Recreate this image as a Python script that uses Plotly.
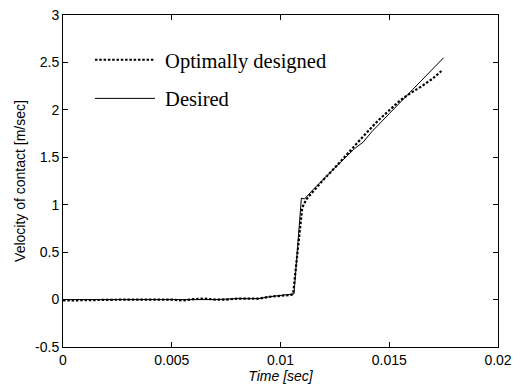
import plotly.graph_objects as go

# Desired trajectory
t_des = [0, 0.001, 0.002, 0.003, 0.004, 0.005, 0.006, 0.007, 0.008, 0.009, 0.0095, 0.010, 0.0105,
         0.01062, 0.01096, 0.0111, 0.0115, 0.012, 0.0125, 0.013, 0.0134, 0.0138, 0.0142, 0.015,
         0.0155, 0.016, 0.0165, 0.017, 0.0175]
v_des = [0, 0, 0, 0, 0, 0, 0.005, 0, 0.01, 0.01, 0.03, 0.04, 0.05,
         0.06, 1.07, 1.06, 1.16, 1.28, 1.39, 1.50, 1.59, 1.66, 1.77, 1.96,
         2.08, 2.20, 2.32, 2.44, 2.55]

# Optimally designed
t_opt = [0, 0.001, 0.002, 0.003, 0.004, 0.005, 0.0055, 0.006, 0.0065, 0.007, 0.0075, 0.008, 0.009,
         0.0095, 0.010, 0.0105, 0.01058, 0.0108, 0.0110, 0.0112, 0.0115, 0.012, 0.0125, 0.013,
         0.0135, 0.014, 0.0145, 0.015, 0.0155, 0.016, 0.0165, 0.017, 0.0174]
v_opt = [-0.01, -0.005, 0, 0, 0, 0, -0.01, 0.005, 0.01, 0, 0, 0.01, 0.01,
         0.03, 0.04, 0.05, 0.06, 0.55, 0.97, 1.06, 1.14, 1.27, 1.39, 1.52,
         1.65, 1.77, 1.89, 2.00, 2.10, 2.18, 2.25, 2.33, 2.41]

fig = go.Figure()
fig.add_trace(go.Scatter(x=t_opt, y=v_opt, mode="lines", name="\u00a0Optimally designed",
                         legendgroup="a",
                         line=dict(color="black", width=2.2, dash="2.5px,1.8px")))
fig.add_trace(go.Scatter(x=t_des, y=v_des, mode="lines", name="\u00a0Desired",
                         legendgroup="b",
                         line=dict(color="black", width=1)))

axis_common = dict(showgrid=False, zeroline=False, showline=True, linecolor="black",
                   linewidth=1, mirror="ticks", ticks="inside", ticklen=5, tickcolor="black",
                   automargin=False, ticklabeloverflow="allow",
                   tickfont=dict(family="Liberation Sans, Arial, sans-serif", size=14, color="black"))

fig.update_layout(
    width=524, height=378,
    margin=dict(l=55, r=34, t=7, b=39),
    paper_bgcolor="white", plot_bgcolor="white",
    showlegend=True,
    legend=dict(x=0.062, y=0.925, xanchor="left", yanchor="top",
                font=dict(family="Liberation Serif, Times New Roman, serif", size=20.5, color="black"),
                bgcolor="rgba(0,0,0,0)", itemwidth=60, tracegroupgap=9),
    xaxis=dict(range=[0, 0.02], tickvals=[0, 0.005, 0.01, 0.015, 0.02],
               ticktext=["0", "0.005", "0.01", "0.015", "0.02"],
               title=dict(text="<i>Time [sec]</i>", standoff=2,
                          font=dict(family="Liberation Sans, Arial, sans-serif", size=14, color="black")),
               **axis_common),
    yaxis=dict(range=[-0.5, 3], tickvals=[-0.5, 0, 0.5, 1, 1.5, 2, 2.5, 3],
               ticktext=["-0.5", "0", "0.5", "1", "1.5", "2", "2.5", "3"],
               title=dict(text="Velocity of contact [m/sec]", standoff=6,
                          font=dict(family="Liberation Sans, Arial, sans-serif", size=14, color="black")),
               **axis_common),
)

fig.write_html("out.html")
